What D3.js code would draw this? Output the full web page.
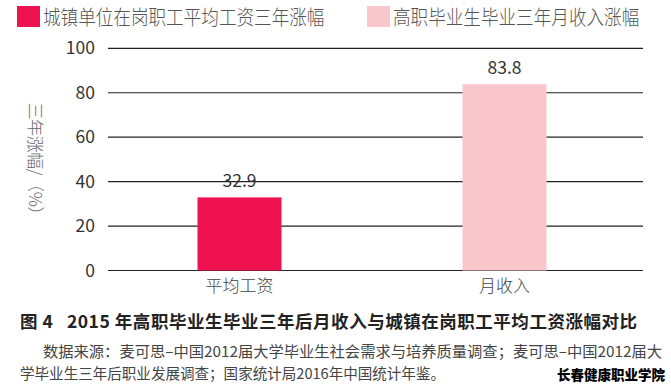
<!DOCTYPE html>
<html><head><meta charset="utf-8">
<script src="https://cdn.jsdelivr.net/npm/d3@7"></script>
<style>
html,body{margin:0;padding:0;background:#fff;}
svg{display:block;}
text{font-family:"Noto Sans CJK SC","Liberation Sans",sans-serif;}
</style></head>
<body><svg id="c" width="671" height="391"></svg>
<script>
const categories = ["平均工资", "月收入"];
const values = [32.9, 83.8];
const seriesNames = ["城镇单位在岗职工平均工资三年涨幅", "高职毕业生毕业三年月收入涨幅"];
const colors = ["#EE1350", "#F9C7CB"];
const yTicks = [0, 20, 40, 60, 80, 100];
const yTitle = "三年涨幅/（%）";
const caption = "图\u00a04\u00a0\u00a0\u00a02015\u00a0年高职毕业生毕业三年后月收入与城镇在岗职工平均工资涨幅对比";
const sourceLines = ["数据来源：麦可思–中国2012届大学毕业生社会需求与培养质量调查；麦可思–中国2012届大",
                     "学毕业生三年后职业发展调查；国家统计局2016年中国统计年鉴。"];
const watermark = "长春健康职业学院";

const svg = d3.select("#c");
const plotL = 108, plotR = 643, plotT = 48.3, plotB = 270.5;

const y = d3.scaleLinear().domain([0, 100]).range([plotB, plotT]);
const x = d3.scaleBand().domain(categories).range([107, 637]).paddingInner(0.683).paddingOuter(0.3415);

// gridlines
svg.append("g").selectAll("line").data(yTicks).join("line")
  .attr("x1", plotL).attr("x2", plotR)
  .attr("y1", d => y(d)).attr("y2", d => y(d))
  .attr("stroke", "#222").attr("stroke-width", 1.2);

// y axis labels via d3 axis
const yAxis = svg.append("g").attr("transform", `translate(${plotL},0)`)
  .call(d3.axisLeft(y).tickValues(yTicks).tickSize(0).tickPadding(13));
yAxis.select(".domain").remove();
yAxis.selectAll("text").attr("fill", "#333").attr("font-size", 17.5)
  .attr("font-family", "'Liberation Sans',Arial,sans-serif");

// bars
svg.append("g").selectAll("rect").data(values).join("rect")
  .attr("x", (d, i) => x(categories[i]))
  .attr("width", x.bandwidth())
  .attr("y", d => y(d))
  .attr("height", d => y(0) - y(d))
  .attr("fill", (d, i) => colors[i]);

// value labels
svg.append("g").selectAll("text").data(values).join("text")
  .attr("x", (d, i) => x(categories[i]) + x.bandwidth() / 2)
  .attr("y", d => y(d) - 10.5)
  .attr("text-anchor", "middle")
  .attr("font-size", 17.5).attr("fill", "#333")
  .attr("font-family", "'Liberation Sans',Arial,sans-serif")
  .text(d => d.toFixed(1));

// x axis labels
const xAxis = svg.append("g").attr("transform", `translate(0,${plotB})`)
  .call(d3.axisBottom(x).tickSize(0).tickPadding(6));
xAxis.select(".domain").remove();
xAxis.selectAll("text").attr("fill", "#444").attr("font-size", 17)
  .attr("font-family", "'Noto Sans CJK SC',sans-serif").attr("font-weight", 300)
  .attr("dy", "0.9em");

// y title
svg.append("text")
  .attr("transform", "translate(29,163) rotate(90)")
  .attr("text-anchor", "middle").attr("font-size", 17).attr("font-weight", 300)
  .attr("fill", "#666").attr("textLength", 121).attr("lengthAdjust", "spacing")
  .text(yTitle);

// legend
const legX = [17, 367];
const leg = svg.append("g").selectAll("g").data(seriesNames).join("g")
  .attr("transform", (d, i) => `translate(${legX[i]},6)`);
leg.append("rect").attr("width", 23).attr("height", 21).attr("fill", (d, i) => colors[i]);
leg.append("text").attr("transform", "translate(26,19) scale(1,1.15)")
  .attr("font-size", 17.6).attr("font-weight", 300).attr("fill", "#555")
  .text(d => d);

// caption
svg.append("text").attr("x", 20).attr("y", 328)
  .attr("font-size", 17.5).attr("font-weight", 700).attr("fill", "#222")
  .attr("textLength", 617).attr("lengthAdjust", "spacing")
  .text(caption);

// source
svg.append("text").attr("x", 43).attr("y", 357)
  .attr("font-size", 15).attr("fill", "#444")
  .attr("textLength", 619).attr("lengthAdjust", "spacingAndGlyphs")
  .text(sourceLines[0]);
svg.append("text").attr("x", 20).attr("y", 379)
  .attr("font-size", 15).attr("fill", "#444")
  .attr("textLength", 425).attr("lengthAdjust", "spacingAndGlyphs")
  .text(sourceLines[1]);

// watermark
svg.append("text").attr("x", 665).attr("y", 380).attr("text-anchor", "end")
  .attr("font-size", 13.5).attr("font-weight", 900).attr("fill", "#000")
  .attr("stroke", "#fff").attr("stroke-width", 3).attr("paint-order", "stroke")
  .text(watermark);
</script></body></html>
